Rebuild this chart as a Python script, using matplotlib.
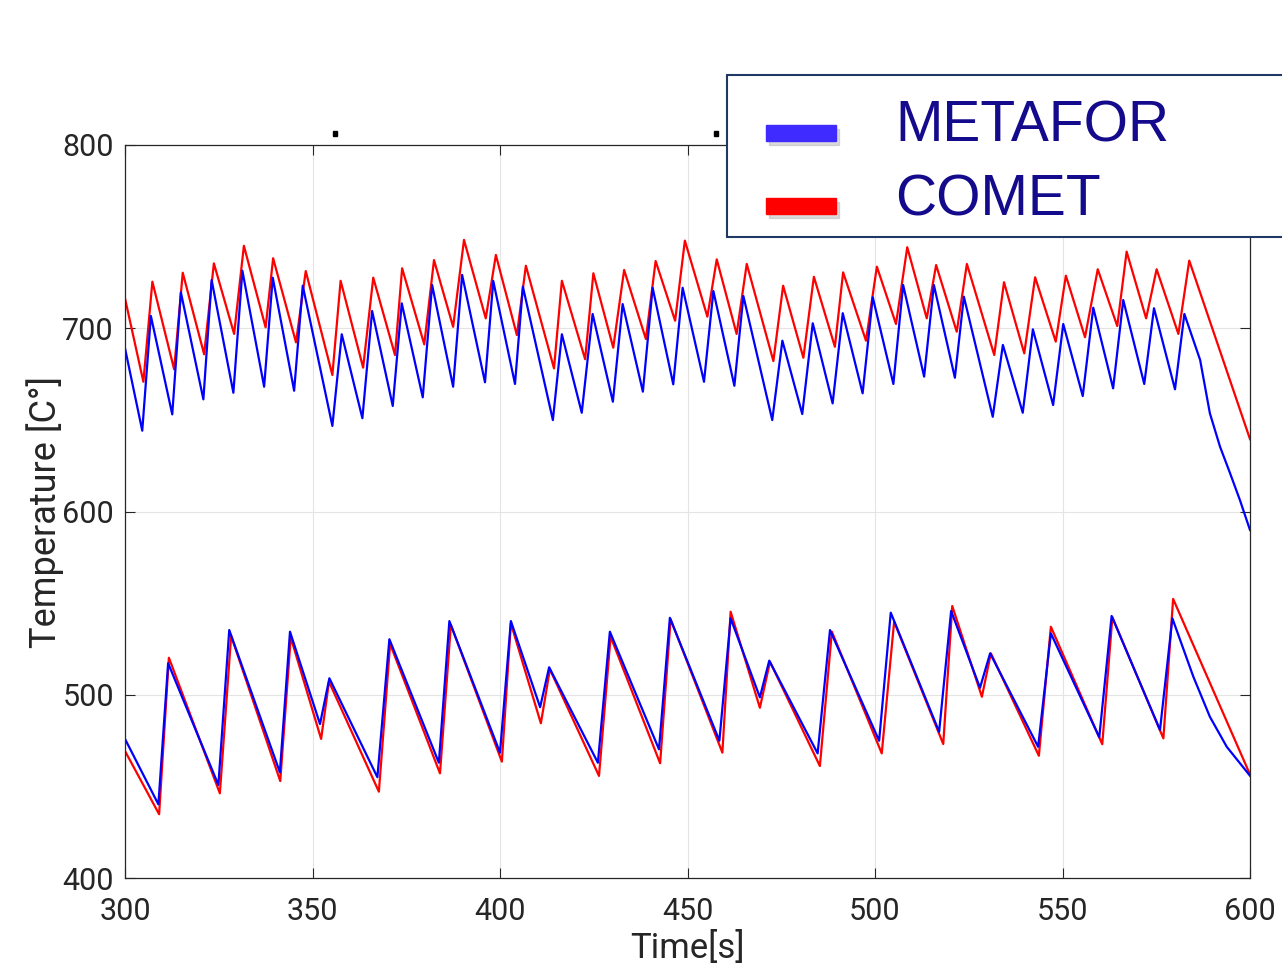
import matplotlib
matplotlib.use('Agg')
import matplotlib.pyplot as plt
from matplotlib.patches import Rectangle

# upper band (peaks and troughs)
comet_hi_t = [300, 304.9, 307.3, 313.1, 315.4, 321.1, 323.7, 329.1, 331.7, 337.5,
              339.5, 345.6, 348.2, 355.3, 357.5, 363.5, 366.2, 372.0, 373.9, 379.8,
              382.4, 387.5, 390.4, 396.2, 398.9, 404.5, 406.9, 414.4, 416.5, 422.7,
              424.9, 430.2, 433.1, 438.9, 441.5, 446.7, 449.3, 455.3, 457.8, 463.1,
              465.8, 472.9, 475.5, 480.9, 483.7, 489.3, 491.5, 497.6, 500.5, 505.6,
              508.6, 513.8, 516.3, 521.8, 524.5, 531.8, 534.4, 539.8, 542.7, 548.2,
              550.9, 556.0, 559.4, 564.6, 567.1, 572.3, 575.1, 580.9, 583.8, 600]
comet_hi = [716.3, 670.8, 725.4, 677.6, 730.3, 685.8, 735.4, 696.9, 745.0, 700.5,
            738.2, 692.3, 731.2, 674.5, 725.9, 678.5, 727.6, 685.4, 732.7, 691.2,
            737.2, 700.8, 748.2, 705.4, 740.0, 696.3, 734.1, 678.1, 725.9, 683.1,
            730.0, 689.4, 731.8, 694.1, 736.7, 704.1, 747.8, 706.3, 737.6, 696.9,
            735.1, 682.1, 723.2, 683.9, 728.1, 689.9, 730.5, 693.2, 733.6, 702.3,
            744.2, 705.4, 734.5, 698.1, 735.1, 685.4, 725.1, 686.3, 727.8, 692.7,
            728.7, 695.1, 732.2, 701.2, 741.8, 705.4, 732.2, 696.9, 736.9, 639.5]

metafor_hi_t = [300, 304.6, 306.9, 312.6, 314.9, 320.9, 323.1, 328.9, 331.3, 337.1,
                339.4, 345.1, 347.4, 355.3, 357.8, 363.3, 365.9, 371.4, 373.8, 379.4,
                381.9, 387.5, 389.9, 396.0, 398.2, 404.0, 406.1, 414.1, 416.5, 421.8,
                424.7, 430.1, 432.7, 438.1, 440.7, 446.2, 448.7, 454.4, 456.9, 462.5,
                464.9, 472.6, 475.3, 480.6, 483.4, 488.7, 491.4, 496.7, 499.4, 504.9,
                507.5, 513.1, 515.7, 521.3, 523.7, 531.4, 534.1, 539.4, 542.1, 547.5,
                550.2, 555.4, 558.2, 563.5, 566.2, 571.8, 574.4, 580.0, 582.5, 586.7,
                589.3, 592.0, 594.7, 597.3, 600]
metafor_hi = [689.1, 644.1, 706.7, 653.0, 719.6, 661.2, 726.3, 664.8, 731.4, 668.1,
              727.6, 665.9, 723.2, 646.7, 696.7, 650.9, 709.4, 657.6, 713.6, 662.3,
              723.6, 668.1, 729.1, 670.5, 725.8, 669.6, 722.7, 649.9, 696.7, 653.9,
              707.8, 659.9, 713.2, 665.4, 722.1, 669.4, 722.1, 670.8, 720.3, 668.6,
              717.6, 649.9, 693.2, 653.2, 702.7, 659.0, 708.2, 664.5, 716.9, 669.6,
              723.6, 673.6, 723.6, 673.0, 717.2, 651.7, 690.9, 653.9, 699.4, 658.1,
              702.3, 663.0, 711.2, 667.2, 715.4, 669.6, 710.9, 666.7, 707.8, 682.7,
              653.6, 635.4, 620.8, 606.3, 589.9]

# lower band
comet_lo_t = [300, 309.1, 311.7, 325.3, 328.3, 341.4, 344.2, 352.3, 354.4, 367.7,
              370.7, 384.0, 386.9, 400.5, 402.9, 410.9, 413.3, 426.4, 429.5, 442.7,
              445.5, 459.3, 461.5, 469.3, 472.0, 485.3, 488.5, 501.8, 505.1, 518.2,
              520.6, 528.5, 530.9, 543.7, 546.9, 560.6, 563.3, 576.9, 579.5, 600]
comet_lo = [469.3, 434.8, 520.2, 446.2, 532.1, 452.9, 531.3, 475.9, 507.1, 447.1,
            527.7, 457.1, 538.1, 463.5, 539.0, 484.4, 513.9, 455.7, 531.7, 462.6,
            541.2, 468.4, 545.3, 492.9, 518.0, 461.1, 534.4, 468.0, 539.9, 473.1,
            548.4, 498.9, 522.6, 466.7, 537.1, 473.0, 542.3, 476.2, 552.3, 456.5]

metafor_lo_t = [300, 308.9, 311.5, 324.9, 327.8, 341.3, 344.0, 352.0, 354.5, 367.3,
                370.5, 383.7, 386.5, 400.0, 402.9, 410.7, 413.1, 426.1, 429.3, 442.4,
                445.3, 458.5, 461.5, 469.3, 471.8, 484.7, 488.0, 501.1, 504.2, 517.1,
                520.3, 528.0, 530.7, 543.5, 546.9, 559.8, 563.1, 576.0, 579.3, 584.9,
                589.3, 593.8, 600]
metafor_lo = [475.9, 440.2, 517.2, 450.8, 535.3, 457.7, 534.4, 484.0, 509.0, 455.0,
              530.3, 462.9, 540.2, 468.4, 540.2, 493.2, 515.0, 462.9, 534.4, 470.2,
              542.0, 474.9, 541.7, 498.6, 518.6, 468.0, 535.3, 474.9, 544.8, 479.8,
              545.7, 503.8, 522.6, 471.6, 533.5, 476.8, 543.0, 480.8, 541.7, 509.8,
              488.0, 471.6, 455.8]

x_ticks = [300, 350, 400, 450, 500, 550, 600]
y_ticks = [400, 500, 600, 700, 800]
legend_names = ['METAFOR', 'COMET']

W, H = 1282, 964
fig = plt.figure(figsize=(W / 100, H / 100), dpi=100)
ax = fig.add_axes([125 / W, 1 - 878 / H, 1125 / W, 733 / H])

ax.plot(comet_hi_t, comet_hi, color='#ff0000', lw=1.6)
ax.plot(metafor_hi_t, metafor_hi, color='#0000ff', lw=1.6, solid_joinstyle='round')
ax.plot(comet_lo_t, comet_lo, color='#ff0000', lw=1.6)
ax.plot(metafor_lo_t, metafor_lo, color='#0000ff', lw=1.6, solid_joinstyle='round')

ax.set_xlim(300, 600)
ax.set_ylim(400, 800)
ax.set_xticks(x_ticks)
ax.set_yticks(y_ticks)
ax.grid(True, color='#e4e4e4', lw=0.8)
ax.set_axisbelow(True)
for s in ax.spines.values():
    s.set_color('#262626')
    s.set_linewidth(0.9)
ax.tick_params(direction='in', length=7, width=0.8, top=True, right=True,
               colors='#262626', labelsize=22, pad=8)
ax.tick_params(axis='x', pad=14)
for lab in ax.get_xticklabels() + ax.get_yticklabels():
    lab.set_family('Roboto')
ax.set_xlabel('Time[s]', fontsize=25, family='Roboto', color='#262626', labelpad=3)
ax.set_ylabel('Temperature [C°]', fontsize=26, family='Roboto', color='#262626', labelpad=-1)

# two stray dots above the plot
for px in (333, 714):
    fig.add_artist(Rectangle((px / W, 1 - 136 / H), 4 / W, 5 / H,
                             transform=fig.transFigure, color='black'))

# legend box (overlay, runs off the right edge)
fig.add_artist(Rectangle((727 / W, 1 - 237 / H), (1300 - 727) / W, (237 - 75) / H,
                         transform=fig.transFigure, facecolor='white',
                         edgecolor='#1f3864', lw=1.5, zorder=10))
for i, (name, col) in enumerate(zip(legend_names, ['#3f2bff', '#ff0000'])):
    top = 125 + i * 73
    fig.add_artist(Rectangle((769 / W, 1 - (top + 20) / H), 70 / W, 16 / H,
                             transform=fig.transFigure, color='#999999',
                             alpha=0.35, zorder=11))
    fig.add_artist(Rectangle((766 / W, 1 - (top + 16) / H), 70 / W, 16 / H,
                             transform=fig.transFigure, color=col, zorder=12))
    fig.text(895 / W, 1 - (top + 17) / H, name, fontsize=41, family='Liberation Sans',
             color='#140a8c', va='baseline', ha='left', zorder=12)

fig.savefig('out.png', dpi=100)
